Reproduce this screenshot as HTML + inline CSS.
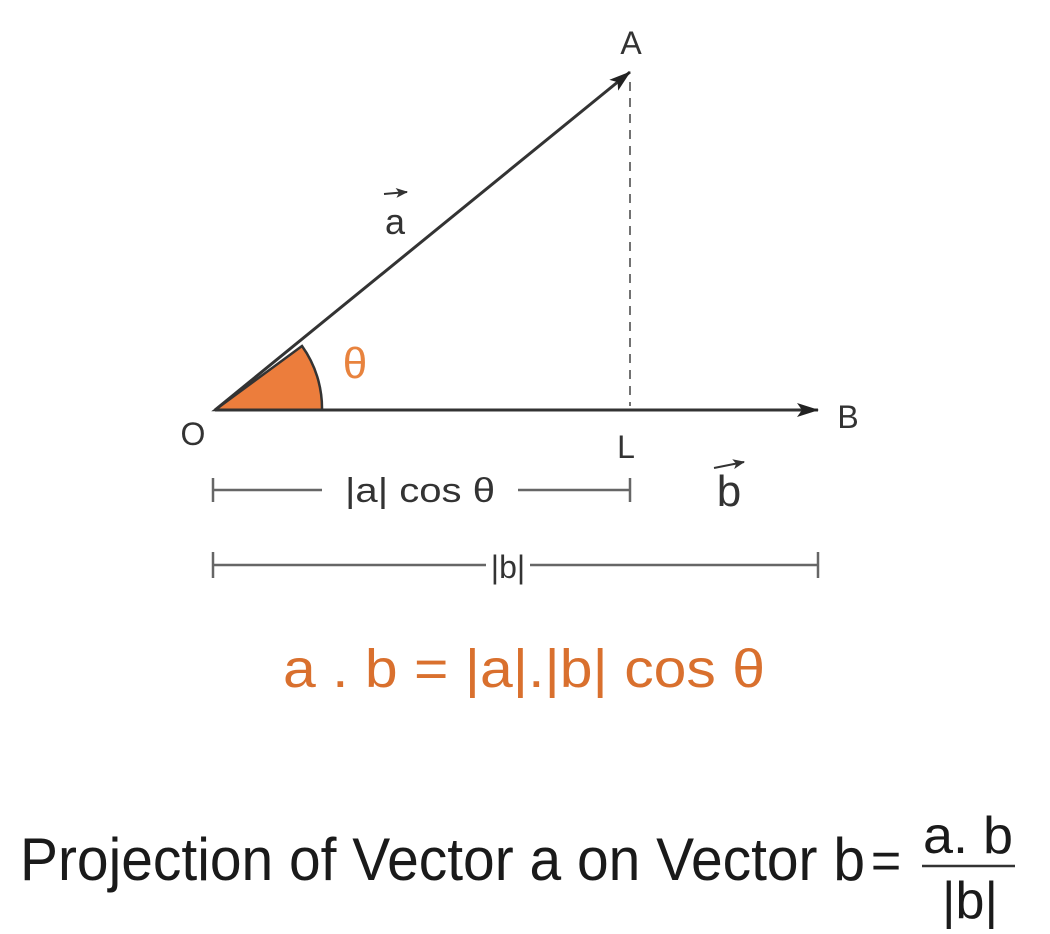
<!DOCTYPE html>
<html><head><meta charset="utf-8"><style>
html,body{margin:0;padding:0;background:#fff;width:1050px;height:934px;overflow:hidden}
svg text{font-family:"Liberation Sans",sans-serif}
</style></head><body>
<svg width="1050" height="934" viewBox="0 0 1050 934">
<defs>
<marker id="ah" markerWidth="22" markerHeight="14" refX="21" refY="7" orient="auto" markerUnits="userSpaceOnUse">
<path d="M0,0 L22,7 L0,14 L5,7 Z" fill="#222"/></marker>
<marker id="ahs" markerWidth="12" markerHeight="10" refX="11" refY="5" orient="auto" markerUnits="userSpaceOnUse">
<path d="M0,0 L12,5 L0,10 L3,5 Z" fill="#333"/></marker>
</defs>
<path d="M215,410 L302,346 A107,107 0 0 1 322,410 Z" fill="#ec7d3c" stroke="#333" stroke-width="2.5"/>
<line x1="215" y1="410" x2="630" y2="72" stroke="#333" stroke-width="3" marker-end="url(#ah)"/>
<line x1="215" y1="410" x2="818" y2="410" stroke="#333" stroke-width="3" marker-end="url(#ah)"/>
<line x1="630" y1="82" x2="630" y2="406" stroke="#444" stroke-width="1.5" stroke-dasharray="9,7"/>
<text x="631" y="54" font-size="32" fill="#333" text-anchor="middle">A</text>
<text x="193" y="445" font-size="32" fill="#333" text-anchor="middle">O</text>
<text x="626" y="458" font-size="32" fill="#333" text-anchor="middle">L</text>
<text x="848" y="428" font-size="32" fill="#333" text-anchor="middle">B</text>
<text x="355" y="378" font-size="44" fill="#e8833e" text-anchor="middle" font-family="Liberation Serif">θ</text>
<g>
<text x="395" y="234" font-size="36" fill="#333" text-anchor="middle">a</text>
<line x1="384" y1="194" x2="407" y2="192" stroke="#333" stroke-width="2" marker-end="url(#ahs)"/></g>
<g>
<text x="729" y="506" font-size="44" fill="#333" text-anchor="middle">b</text>
<line x1="714" y1="468" x2="744" y2="462" stroke="#333" stroke-width="2" marker-end="url(#ahs)"/></g>
<g stroke="#666" stroke-width="2.5">
<line x1="213" y1="478" x2="213" y2="502"/><line x1="630" y1="478" x2="630" y2="502"/>
<line x1="213" y1="490" x2="322" y2="490"/><line x1="518" y1="490" x2="630" y2="490"/></g>
<text x="420" y="502" font-size="34" fill="#333" text-anchor="middle" textLength="150" lengthAdjust="spacingAndGlyphs">|a| cos θ</text>
<g stroke="#666" stroke-width="2.5">
<line x1="213" y1="552" x2="213" y2="578"/><line x1="818" y1="552" x2="818" y2="578"/>
<line x1="213" y1="565" x2="486" y2="565"/><line x1="530" y1="565" x2="818" y2="565"/></g>
<text x="508" y="578" font-size="32" fill="#333" text-anchor="middle">|b|</text>
<text x="283" y="687" font-size="54" fill="#d9702e" textLength="482" lengthAdjust="spacingAndGlyphs">a . b = |a|.|b| cos θ</text>
<text x="20" y="880" font-size="60" fill="#1a1a1a" textLength="845" lengthAdjust="spacingAndGlyphs">Projection of Vector a on Vector b</text>
<text x="886" y="878" font-size="52" fill="#1a1a1a" text-anchor="middle">=</text>
<text x="968" y="853" font-size="52" fill="#1a1a1a" text-anchor="middle" textLength="90" lengthAdjust="spacingAndGlyphs">a. b</text>
<line x1="922" y1="866" x2="1015" y2="866" stroke="#333" stroke-width="2.5"/>
<text x="970" y="918" font-size="52" fill="#1a1a1a" text-anchor="middle">|b|</text>
</svg>
</body></html>
